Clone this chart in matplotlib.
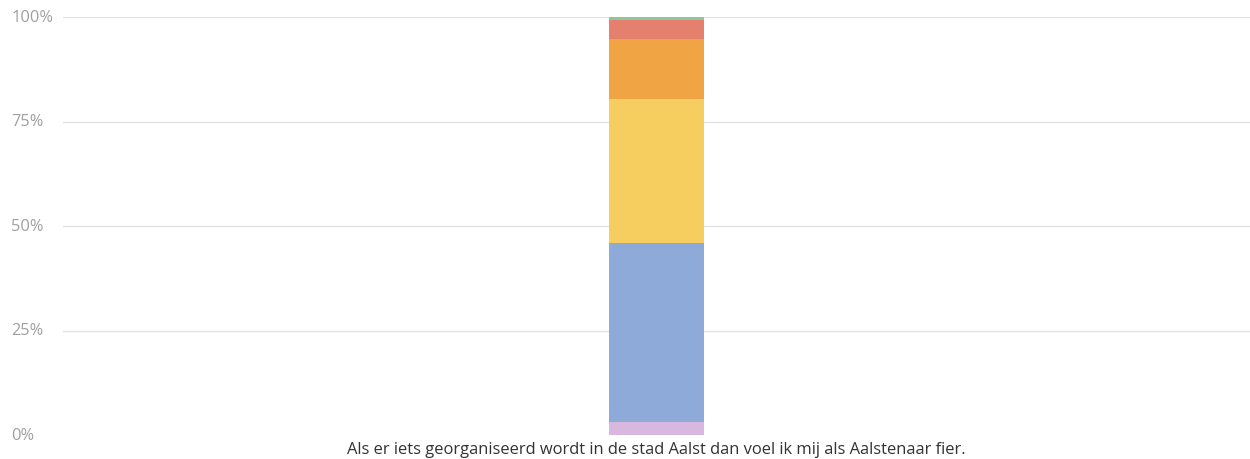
import matplotlib
matplotlib.use("Agg")
import matplotlib.pyplot as plt
from matplotlib.transforms import blended_transform_factory

plt.rcParams['font.family'] = ['Open Sans', 'DejaVu Sans']

category = "Als er iets georganiseerd wordt in de stad Aalst dan voel ik mij als Aalstenaar fier."
segment_values = [3.1, 42.8, 34.5, 14.3, 4.5, 0.8]
segment_colors = ["#d9b8df", "#8eaad8", "#f6cd5f", "#f0a443", "#e5806f", "#8fc79a"]
y_ticks = [0, 25, 50, 75, 100]
y_tick_labels = ["0%", "25%", "50%", "75%", "100%"]

fig = plt.figure(figsize=(12.5, 4.6), dpi=100)
ax = fig.add_axes([63 / 1250, 24 / 460, 1 - 63 / 1250, (436 - 18) / 460])

bottom = 0.0
for val, col in zip(segment_values, segment_colors):
    ax.bar(0, val, bottom=bottom, width=0.08, color=col, linewidth=0, zorder=3)
    bottom += val

ax.set_xlim(-0.5, 0.5)
ax.set_ylim(0, 100)

for t in y_ticks[1:]:
    ax.axhline(t, color="#e3e3e3", linewidth=1, zorder=1)

for side in ax.spines.values():
    side.set_visible(False)
ax.set_xticks([])
ax.set_yticks([])

trans = blended_transform_factory(fig.transFigure, ax.transData)
for t, lab in zip(y_ticks, y_tick_labels):
    ax.text(11 / 1250, t, lab, transform=trans, ha="left", va="center",
            fontsize=11.8, color="#a0a0a0")

ax.text(0.5, -18 / 418, category, transform=ax.transAxes, ha="center", va="baseline",
        fontsize=11.9, color="#333333")

fig.savefig("out.png", dpi=100)
